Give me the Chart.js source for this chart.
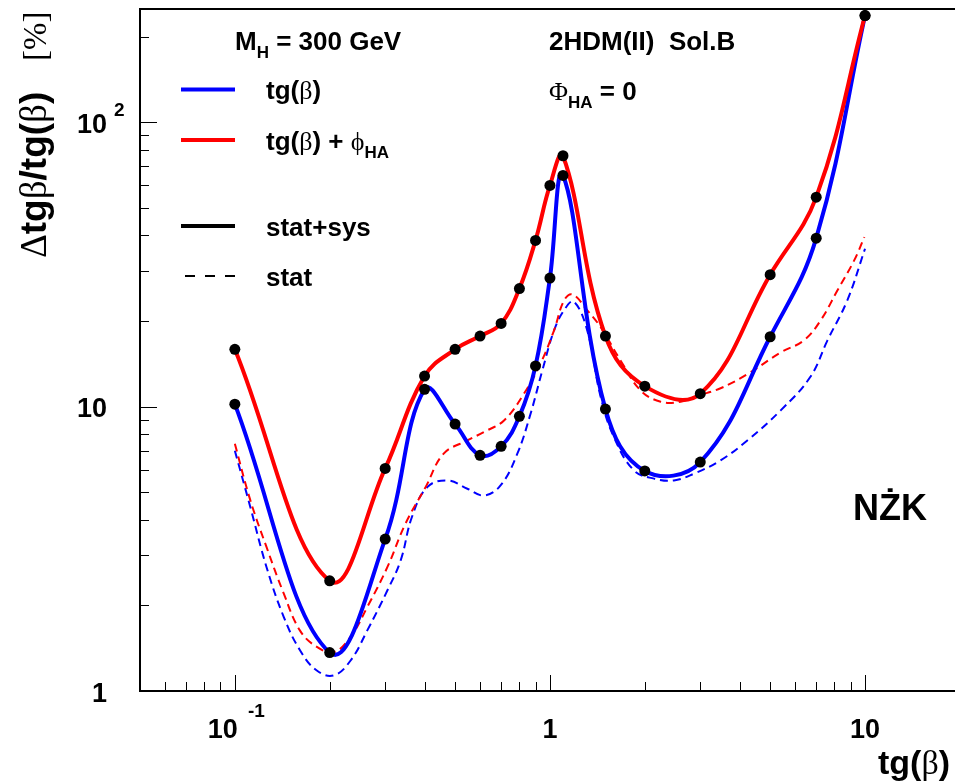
<!DOCTYPE html>
<html><head><meta charset="utf-8">
<script src="https://cdn.jsdelivr.net/npm/chart.js@4.4.0/dist/chart.umd.min.js"></script>
<style>html,body{margin:0;padding:0;overflow:hidden;background:#fff;width:955px;height:783px}</style>
</head><body>
<canvas id="c" width="955" height="783" style="display:block;width:955px;height:783px"></canvas>
<script>
// tg(beta) points with markers
const tgb = [0.1, 0.2, 0.3, 0.4, 0.5, 0.6, 0.7, 0.8, 0.9, 1.0, 1.1, 1.5, 2, 3, 5, 7, 10];
const blueStatSys = [10.2, 1.365, 3.42, 11.5, 8.68, 6.74, 7.25, 9.24, 13.9, 28.3, 65.0, 9.8, 5.94, 6.38, 17.6, 39.1, 237];
const redStatSys  = [15.9, 2.44, 6.06, 12.8, 15.9, 17.7, 19.6, 26.0, 38.4, 59.9, 76.2, 17.7, 11.8, 11.1, 29.1, 54.5, 237];
// stat-only curves (dashed)
const redStatX = [0.1, 0.112, 0.126, 0.143, 0.161, 0.182, 0.206, 0.233, 0.263, 0.305, 0.348, 0.403, 0.46, 0.547, 0.617, 0.715, 0.827, 0.934, 1.03, 1.108, 1.178, 1.314, 1.449, 1.677, 1.94, 2.247, 2.6, 2.93, 3.48, 4.23, 5.4, 6.4, 7.23, 8.17, 9.23, 9.95];
const redStat  = [7.4, 4.68, 3.21, 2.20, 1.63, 1.43, 1.37, 1.55, 1.97, 2.73, 3.88, 5.21, 6.83, 7.6, 8.14, 8.94, 11.1, 14.2, 18.5, 23.6, 24.8, 21.8, 19.0, 14.5, 11.4, 10.4, 10.4, 10.9, 11.6, 13.0, 15.5, 17.1, 20.1, 25.6, 32.6, 39.4];
const blueStatX = [0.1, 0.112, 0.126, 0.143, 0.161, 0.182, 0.206, 0.233, 0.263, 0.305, 0.336, 0.365, 0.408, 0.472, 0.547, 0.617, 0.697, 0.788, 0.868, 0.946, 1.03, 1.108, 1.19, 1.314, 1.449, 1.596, 1.847, 2.14, 2.475, 2.866, 3.48, 4.23, 5.4, 6.7, 7.6, 8.78, 10.0];
const blueStat  = [7.0, 4.43, 2.73, 1.82, 1.39, 1.18, 1.135, 1.28, 1.63, 2.26, 2.88, 4.1, 5.21, 5.50, 5.14, 4.87, 5.28, 6.83, 9.44, 13.4, 18.5, 21.8, 23.4, 18.5, 10.8, 7.81, 5.97, 5.58, 5.5, 5.81, 6.47, 7.6, 9.7, 12.7, 17.1, 23.6, 35.9];
// axes
const xRange = [0.05, 19.3];
const yRange = [1, 250];
const xMajor = [0.1, 1, 10];
const xMinor = [0.06, 0.07, 0.08, 0.09, 0.2, 0.3, 0.4, 0.5, 0.6, 0.7, 0.8, 0.9, 2, 3, 4, 5, 6, 7, 8, 9];
const yMajor = [1, 10, 100];
const yMinor = [2, 3, 4, 5, 6, 7, 8, 9, 20, 30, 40, 50, 60, 70, 80, 90, 200];
const xTickLabels = [["10", "-1"], ["1", ""], ["10", ""]];
const yTickLabels = [["1", ""], ["10", ""], ["10", "2"]];

const BLUE = '#0000ff', RED = '#ff0000';
const SANS = "'Liberation Sans', Arial, sans-serif";
const SERIF = "'Liberation Serif', 'DejaVu Serif', serif";
const pts = (xs, ys) => xs.map((x, i) => ({x: x, y: ys[i]}));

function rich(ctx, x, y, parts) {
  for (const p of parts) {
    ctx.font = p.f;
    ctx.fillText(p.t, x + (p.dx || 0), y + (p.dy || 0));
    x += ctx.measureText(p.t).width + (p.dx || 0);
  }
  return x;
}

const deco = {
  id: 'deco',
  afterDraw(chart) {
    const ctx = chart.ctx, a = chart.chartArea;
    const xs = chart.scales.x, ys = chart.scales.y;
    ctx.save();
    ctx.strokeStyle = '#000'; ctx.fillStyle = '#000';
    // frame (right side lies at the page edge)
    ctx.lineWidth = 2;
    ctx.beginPath();
    ctx.moveTo(a.right + 2, a.top); ctx.lineTo(a.left, a.top); ctx.lineTo(a.left, a.bottom); ctx.lineTo(a.right + 2, a.bottom);
    ctx.stroke();
    // ticks
    ctx.lineWidth = 1;
    ctx.beginPath();
    for (const v of xMajor) { const p = Math.round(xs.getPixelForValue(v)) + 0.5; ctx.moveTo(p, a.bottom); ctx.lineTo(p, a.bottom - 16); }
    for (const v of xMinor) { const p = Math.round(xs.getPixelForValue(v)) + 0.5; ctx.moveTo(p, a.bottom); ctx.lineTo(p, a.bottom - 9); }
    for (const v of yMajor) { const p = Math.round(ys.getPixelForValue(v)) + 0.5; ctx.moveTo(a.left, p); ctx.lineTo(a.left + 17, p); }
    for (const v of yMinor) { const p = Math.round(ys.getPixelForValue(v)) + 0.5; ctx.moveTo(a.left, p); ctx.lineTo(a.left + 9, p); }
    ctx.stroke();
    // tick labels
    const FB = 'bold 27px ' + SANS, FS = 'bold 19px ' + SANS;
    ctx.textBaseline = 'alphabetic';
    xMajor.forEach((v, i) => {
      const p = xs.getPixelForValue(v);
      const [m, s] = xTickLabels[i];
      ctx.font = FB;
      const w = ctx.measureText(m).width;
      if (s) {
        ctx.textAlign = 'left';
        ctx.fillText(m, p - 27, 738);
        ctx.font = FS; ctx.fillText(s, p - 27 + w + 10, 717);
      } else {
        ctx.textAlign = 'center';
        ctx.fillText(m, p, 738);
      }
    });
    yMajor.forEach((v, i) => {
      const p = ys.getPixelForValue(v);
      const [m, s] = yTickLabels[i];
      ctx.font = FB; ctx.textAlign = 'right';
      ctx.fillText(m, 107, p + 10.5);
      if (s) { ctx.font = FS; ctx.textAlign = 'left'; ctx.fillText(s, 114, p - 6); }
    });
    ctx.textAlign = 'left';
    // axis titles
    const TB = 'bold 34px ' + SANS, TS = '34px ' + SERIF;
    rich(ctx, 878, 774, [{t: 'tg(', f: TB}, {t: 'β', f: TS}, {t: ')', f: TB}]);
    const YB = 'bold 37px ' + SANS, YS = '37px ' + SERIF;
    ctx.save();
    ctx.translate(46, 258);
    ctx.rotate(-Math.PI / 2);
    rich(ctx, 0, 0, [{t: 'Δ', f: YS}, {t: 'tg', f: YB}, {t: 'β', f: YS}, {t: '/tg(', f: YB}, {t: 'β', f: YS}, {t: ')', f: YB}, {t: '   ', f: YB}, {t: '[%]', f: '33px ' + SERIF}]);
    ctx.restore();
    // annotations
    const LB = 'bold 26px ' + SANS, LS = 'bold 17px ' + SANS, LG = '26px ' + SERIF;
    rich(ctx, 235, 50, [{t: 'M', f: LB}, {t: 'H', f: LS, dy: 8}, {t: ' = 300 GeV', f: LB}]);
    rich(ctx, 549, 50, [{t: '2HDM(II)  Sol.B', f: LB}]);
    rich(ctx, 549, 100, [{t: 'Φ', f: LG}, {t: 'HA', f: LS, dy: 8}, {t: ' = 0', f: LB}]);
    // legend
    const leg = [
      {y: 89.5, c: BLUE, dash: [], w: 4, x0: 181, parts: [{t: 'tg(', f: LB}, {t: 'β', f: LG}, {t: ')', f: LB}]},
      {y: 140, c: RED, dash: [], w: 4, x0: 181, parts: [{t: 'tg(', f: LB}, {t: 'β', f: LG}, {t: ') + ', f: LB}, {t: 'ϕ', f: LG}, {t: 'HA', f: LS, dy: 8}]},
      {y: 226, c: '#000', dash: [], w: 4, x0: 181, parts: [{t: 'stat+sys', f: LB}]},
      {y: 276, c: '#000', dash: [10, 10], w: 2, x0: 185, parts: [{t: 'stat', f: LB}]}
    ];
    for (const e of leg) {
      ctx.save();
      ctx.strokeStyle = e.c; ctx.lineWidth = e.w; ctx.setLineDash(e.dash);
      ctx.beginPath(); ctx.moveTo(e.x0, e.y); ctx.lineTo(235, e.y); ctx.stroke();
      ctx.restore();
      rich(ctx, 266, e.y + 9.5, e.parts);
    }
    rich(ctx, 853, 520, [{t: 'NŻK', f: 'bold 36px ' + SANS}]);
    ctx.restore();
  }
};

const solid = (data, color) => ({data, borderColor: color, borderWidth: 4, pointRadius: 0, tension: 0.4, fill: false});
const dashed = (data, color) => ({data, borderColor: color, borderWidth: 2, borderDash: [8, 5], pointRadius: 0, tension: 0.4, fill: false});
const markers = (data) => ({data, showLine: false, pointRadius: 5.5, pointBackgroundColor: '#000', pointBorderWidth: 0, borderColor: '#000'});

new Chart(document.getElementById('c'), {
  type: 'line',
  data: {
    datasets: [
      markers(pts(tgb, redStatSys)),
      markers(pts(tgb, blueStatSys)),
      solid(pts(tgb, redStatSys), RED),
      solid(pts(tgb, blueStatSys), BLUE),
      dashed(pts(redStatX, redStat), RED),
      dashed(pts(blueStatX, blueStat), BLUE)
    ]
  },
  options: {
    responsive: false, animation: false, events: [],
    layout: {autoPadding: false, padding: {left: 140, right: 0, top: 9, bottom: 92}},
    plugins: {legend: {display: false}, tooltip: {enabled: false}},
    scales: {
      x: {type: 'logarithmic', min: xRange[0], max: xRange[1], display: false},
      y: {type: 'logarithmic', min: yRange[0], max: yRange[1], display: false}
    }
  },
  plugins: [deco]
});
</script>
</body></html>
